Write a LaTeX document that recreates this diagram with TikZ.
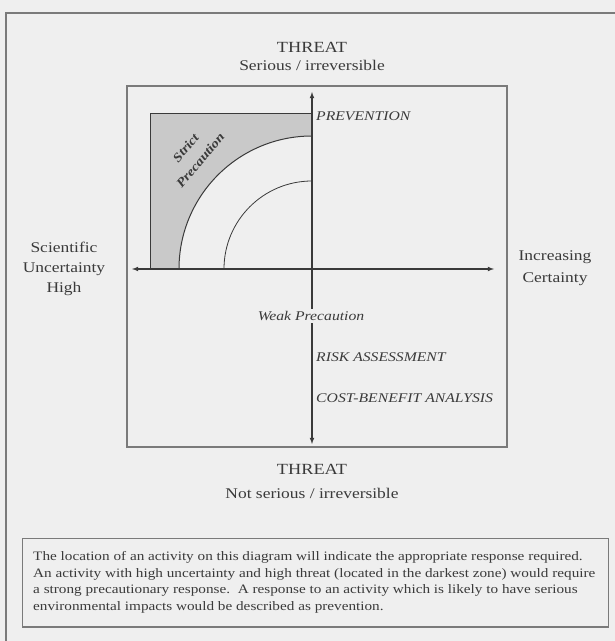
\documentclass[tikz,border=0pt]{standalone}
\usepackage{fontspec}
\setmainfont[FakeStretch=1.18]{Liberation Serif}
\definecolor{paper}{HTML}{EFEFEF}
\definecolor{ink}{HTML}{3A3A3A}
\definecolor{rule}{HTML}{7A7A7A}
\definecolor{zone}{HTML}{C9C9C9}
\tikzset{
  axis/.style={draw=ink,line width=1.1pt,-latex},
  label/.style={text=ink,font=\fontsize{14.8}{16}\selectfont,inner sep=0pt},
  zonelabel/.style={text=ink,font=\itshape\fontsize{13.3}{15}\selectfont,inner sep=0pt},
}
\begin{document}
\begin{tikzpicture}[x=1pt,y=1pt]
\useasboundingbox[fill=paper] (0,0) rectangle (615,641);
\coordinate (Origin) at (312,372);
\coordinate (BoxSW) at (127,194);
\coordinate (BoxNE) at (507,555);
\coordinate (AxisTop) at (312,549);
\coordinate (AxisBottom) at (312,197);
\coordinate (AxisLeft) at (132,372);
\coordinate (AxisRight) at (494,372);
% outer frame, cut by the page
\draw[rule,line width=1.6pt] 
  (6,0) -- 
  (6,628) -- 
  (615,628);
\draw[rule,line width=1.2pt] (BoxSW) rectangle (BoxNE);
\draw[rule,line width=2pt] (BoxSW) -- (507,194);
% zones
\draw[ink,fill=zone,line width=0.8pt] (150,372) rectangle (312,528);
\fill[paper] (Origin) -- (179,372) arc (180:90:133) -- cycle;
\draw[ink,line width=1pt] (179,372) arc (180:90:133);
\draw[ink,line width=0.8pt] (224,372) arc (180:90:88);
\node[zonelabel,font=\itshape\bfseries\fontsize{12.5}{15}\selectfont,align=center,rotate=50] (Strict) at (193,487) {Strict\\[4pt]Precaution};
% axes
\draw[axis,latex-latex] (AxisTop) -- (AxisBottom);
\draw[axis,latex-latex] (AxisLeft) -- (AxisRight);
\node[zonelabel,fill=paper,inner sep=2pt,anchor=center] (Weak) at (311,325) {Weak Precaution};
\node[zonelabel,anchor=west] (Prevention) at (316,525) {PREVENTION};
\node[zonelabel,anchor=west] (Risk) at (316,284) {RISK ASSESSMENT};
\node[zonelabel,anchor=west] (Cost) at (316,243) {COST-BENEFIT ANALYSIS};
% axis titles
\node[label,font=\fontsize{15.5}{17}\selectfont] (ThreatTop) at (312,594) {THREAT};
\node[label] (Serious) at (312,576) {Serious / irreversible};
\node[label,font=\fontsize{15.5}{17}\selectfont] (ThreatBottom) at (312,172) {THREAT};
\node[label] (NotSerious) at (312,148) {Not serious / irreversible};
\node[label,align=center,font=\fontsize{14.8}{20}\selectfont] (Uncertainty) at (64,372) {Scientific\\Uncertainty\\High};
\node[label,align=center,font=\fontsize{14.8}{22}\selectfont] (Certainty) at (555,373) {Increasing\\Certainty};
% note
\draw[rule,line width=0.8pt] (22,14) rectangle (608,103);
\draw[rule,line width=1.6pt] (22,14) -- (608,14);
\node[text=ink,anchor=west,align=left,inner sep=0pt,font=\fontsize{12.9}{16.5}\selectfont] (Note) at (33,58.5)
  {The location of an activity on this diagram will indicate the appropriate response required.\\
   An activity with high uncertainty and high threat (located in the darkest zone) would require\\
   a strong precautionary response.\ \ A response to an activity which is likely to have serious\\
   environmental impacts would be described as prevention.};
\end{tikzpicture}
\end{document}
